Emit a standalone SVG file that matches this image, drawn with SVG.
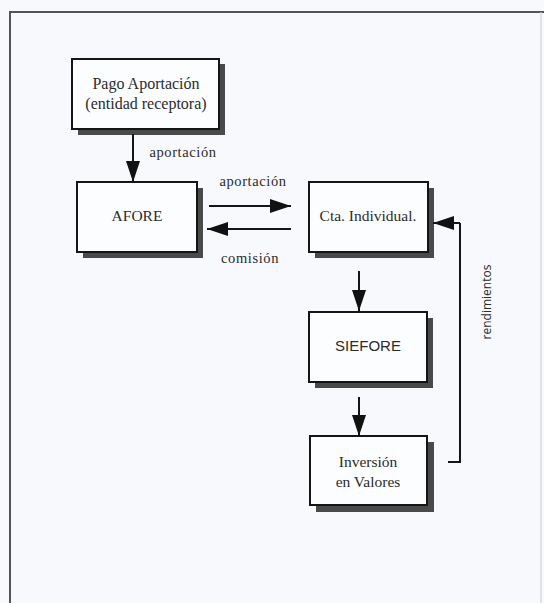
<svg xmlns="http://www.w3.org/2000/svg" width="544" height="603" viewBox="0 0 544 603">
  <defs>
    <marker id="ah" markerUnits="userSpaceOnUse" markerWidth="22" markerHeight="14" refX="21" refY="7" orient="auto">
      <path d="M0,0 L21,7 L0,14 z" fill="#111"/>
    </marker>
  </defs>
  <style>
    .box{fill:#fcfdfe;stroke:#151515;stroke-width:2}
    .shadow{fill:#4a4a4a}
    .t{font-family:"Liberation Serif","Times New Roman",serif;font-size:15.5px;fill:#2b2b2b;text-anchor:middle}
    .lbl{font-family:"Liberation Serif","Times New Roman",serif;font-size:14.5px;fill:#2b2b2b;letter-spacing:0.6px;text-anchor:middle}
    .edge{stroke:#151515;stroke-width:2;fill:none}
  </style>
  <rect x="0" y="0" width="544" height="603" fill="#f7f9fc"/>
  <g id="frame">
    <path d="M10,603 L10,12 L544,12" fill="none" stroke="#555" stroke-width="2"/>
    <line x1="541" y1="12" x2="541" y2="603" stroke="#c8ccd2" stroke-width="1"/>
  </g>

  <g id="pago">
    <rect class="shadow" x="78" y="64" width="147" height="71"/>
    <rect class="box" x="72" y="59" width="147" height="70"/>
    <text class="t" x="146" y="89" style="font-size:16px">Pago Aportación</text>
    <text class="t" x="146" y="109" style="font-size:16px">(entidad receptora)</text>
  </g>
  <g id="afore">
    <rect class="shadow" x="83" y="188" width="120" height="70"/>
    <rect class="box" x="77" y="182" width="120" height="70"/>
    <text class="t" x="137" y="221">AFORE</text>
  </g>
  <g id="cta">
    <rect class="shadow" x="315" y="188" width="119" height="70"/>
    <rect class="box" x="309" y="182" width="119" height="70"/>
    <text class="t" x="368" y="221">Cta. Individual.</text>
  </g>
  <g id="siefore">
    <rect class="shadow" x="315" y="318" width="118" height="70"/>
    <rect class="box" x="309" y="312" width="118" height="70"/>
    <text class="t" x="368" y="351" style="font-family:'Liberation Sans',Arial,sans-serif;font-size:15px">SIEFORE</text>
  </g>
  <g id="inversion">
    <rect class="shadow" x="316" y="442" width="118" height="70"/>
    <rect class="box" x="310" y="436" width="117" height="69"/>
    <text class="t" x="368" y="467">Inversión</text>
    <text class="t" x="368" y="487">en Valores</text>
  </g>

  <g id="connectors">
    <line class="edge" x1="133" y1="134" x2="133" y2="182" marker-end="url(#ah)"/>
    <text class="lbl" x="183" y="157">aportación</text>
    <line class="edge" x1="209" y1="206" x2="291" y2="206" marker-end="url(#ah)"/>
    <text class="lbl" x="253" y="186">aportación</text>
    <line class="edge" x1="291" y1="229" x2="207" y2="229" marker-end="url(#ah)"/>
    <text class="lbl" x="250" y="263">comisión</text>
    <line class="edge" x1="359" y1="271" x2="359" y2="311" marker-end="url(#ah)"/>
    <line class="edge" x1="359" y1="397" x2="359" y2="436" marker-end="url(#ah)"/>
    <polyline class="edge" points="448,462 460,462 460,223"/>
    <line class="edge" x1="460" y1="223" x2="433" y2="223" marker-end="url(#ah)"/>
    <text x="491" y="302" transform="rotate(-90 491 302)" style="font-family:'Open Sans','Liberation Sans',sans-serif;font-size:12px;fill:#2b2b2b;text-anchor:middle">rendimientos</text>
  </g>
</svg>
